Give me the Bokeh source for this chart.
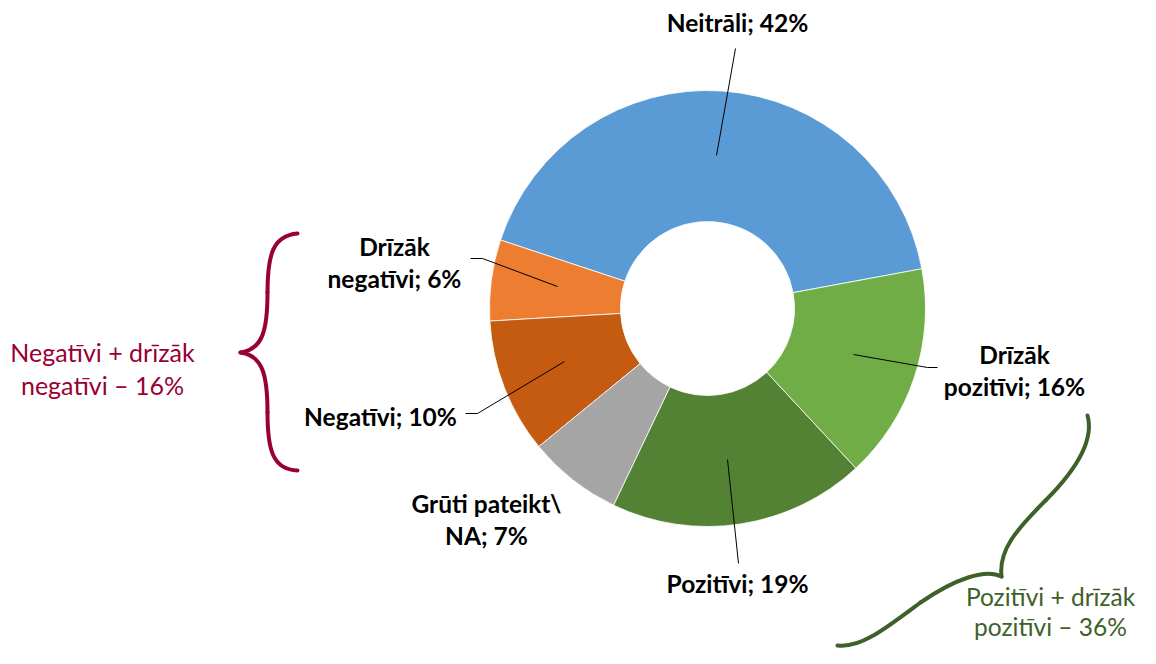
import numpy as np
from bokeh.plotting import figure
from bokeh.models import Range1d
from bokeh.core.properties import value
from bokeh.embed import file_html
from bokeh.resources import INLINE

# ---- data ----
categories = ["Neitrāli", "Drīzāk negatīvi", "Negatīvi", "Grūti pateikt\\ NA", "Pozitīvi", "Drīzāk pozitīvi"]
values = [42, 6, 10, 7, 19, 16]
label_texts = ["Neitrāli; 42%", "Drīzāk\nnegatīvi; 6%", "Negatīvi; 10%",
               "Grūti pateikt\\\nNA; 7%", "Pozitīvi; 19%", "Drīzāk\npozitīvi; 16%"]
group_texts = ["Negatīvi + drīzāk\nnegatīvi – 16%", "Pozitīvi + drīzāk\npozitīvi – 36%"]
colors = ["#5B9BD5", "#ED7D31", "#C55A11", "#A5A5A5", "#548235", "#70AD47"]

W, H = 1140, 648
PAGE_H = 664


def py(y):
    return PAGE_H - y


p = figure(width=W, height=H, output_backend="svg", toolbar_location=None,
           x_range=Range1d(0, W), y_range=Range1d(PAGE_H - H, PAGE_H),
           x_axis_type=None, y_axis_type=None, min_border=0)
p.grid.visible = False
p.outline_line_color = None
p.background_fill_color = "white"
p.border_fill_color = "white"

# ---- donut ----
cx, cy = 707, py(308)
r_out, r_in = 218, 87
rot = np.radians(10.5)
cum = np.cumsum([0] + values) / sum(values) * 2 * np.pi
starts = rot + cum[:-1]
ends = rot + cum[1:]
p.annular_wedge(x=cx, y=cy, inner_radius=r_in, outer_radius=r_out,
                start_angle=starts, end_angle=ends, direction="anticlock",
                fill_color=colors, line_color="white", line_width=0.8)

# ---- leader lines ----
leaders = [
    [(716, 155), (735, 48)],
    [(557, 286), (482, 258), (470, 258)],
    [(564, 361), (477, 413), (465, 413)],
    [(727, 459), (738, 563)],
    [(853, 354), (927, 367), (937, 367)],
]
p.multi_line(xs=[[a for a, b in l] for l in leaders],
             ys=[[py(b) for a, b in l] for l in leaders],
             line_color="black", line_width=1)

# ---- slice labels ----
label_pos = [(737, 22), (394, 262), (380, 416), (486, 519), (737, 583), (1014, 370)]
p.text(x=[a for a, b in label_pos], y=[py(b) for a, b in label_pos], text=label_texts,
       text_font=value("Lato"), text_font_style="bold", text_font_size="24.5px",
       text_color="black", text_align="center", text_baseline="middle",
       text_line_height=1.1)

# ---- braces ----
red = "#990033"
green = "#3D6128"
red_segs = [
    ((297, 233), (272, 235), (267, 255), (267, 292)),
    ((267, 292), (267, 330), (262, 349), (240, 352)),
    ((240, 352), (262, 355), (267, 374), (267, 412)),
    ((267, 412), (267, 449), (272, 469), (297, 470)),
]
green_segs = [
    ((1087, 415), (1094, 440), (1075, 470), (1045, 500)),
    ((1045, 500), (1015, 530), (998, 550), (1001, 576)),
    ((1001, 576), (985, 568), (955, 578), (920, 602)),
    ((920, 602), (885, 628), (860, 648), (837, 645)),
]
for segs, col in ((red_segs, red), (green_segs, green)):
    p.bezier(x0=[s[0][0] for s in segs], y0=[py(s[0][1]) for s in segs],
             cx0=[s[1][0] for s in segs], cy0=[py(s[1][1]) for s in segs],
             cx1=[s[2][0] for s in segs], cy1=[py(s[2][1]) for s in segs],
             x1=[s[3][0] for s in segs], y1=[py(s[3][1]) for s in segs],
             line_color=col, line_width=4, line_cap="round")

p.text(x=[102], y=[py(368)], text=[group_texts[0]],
       text_font=value("Lato"), text_font_size="25px",
       text_color=red, text_align="center", text_baseline="middle",
       text_line_height=1.08)
p.text(x=[1050], y=[py(611)], text=[group_texts[1]],
       text_font=value("Lato"), text_font_size="24.5px",
       text_color=green, text_align="center", text_baseline="middle",
       text_line_height=1.05)

open("out.html", "w").write(file_html(p, INLINE))
